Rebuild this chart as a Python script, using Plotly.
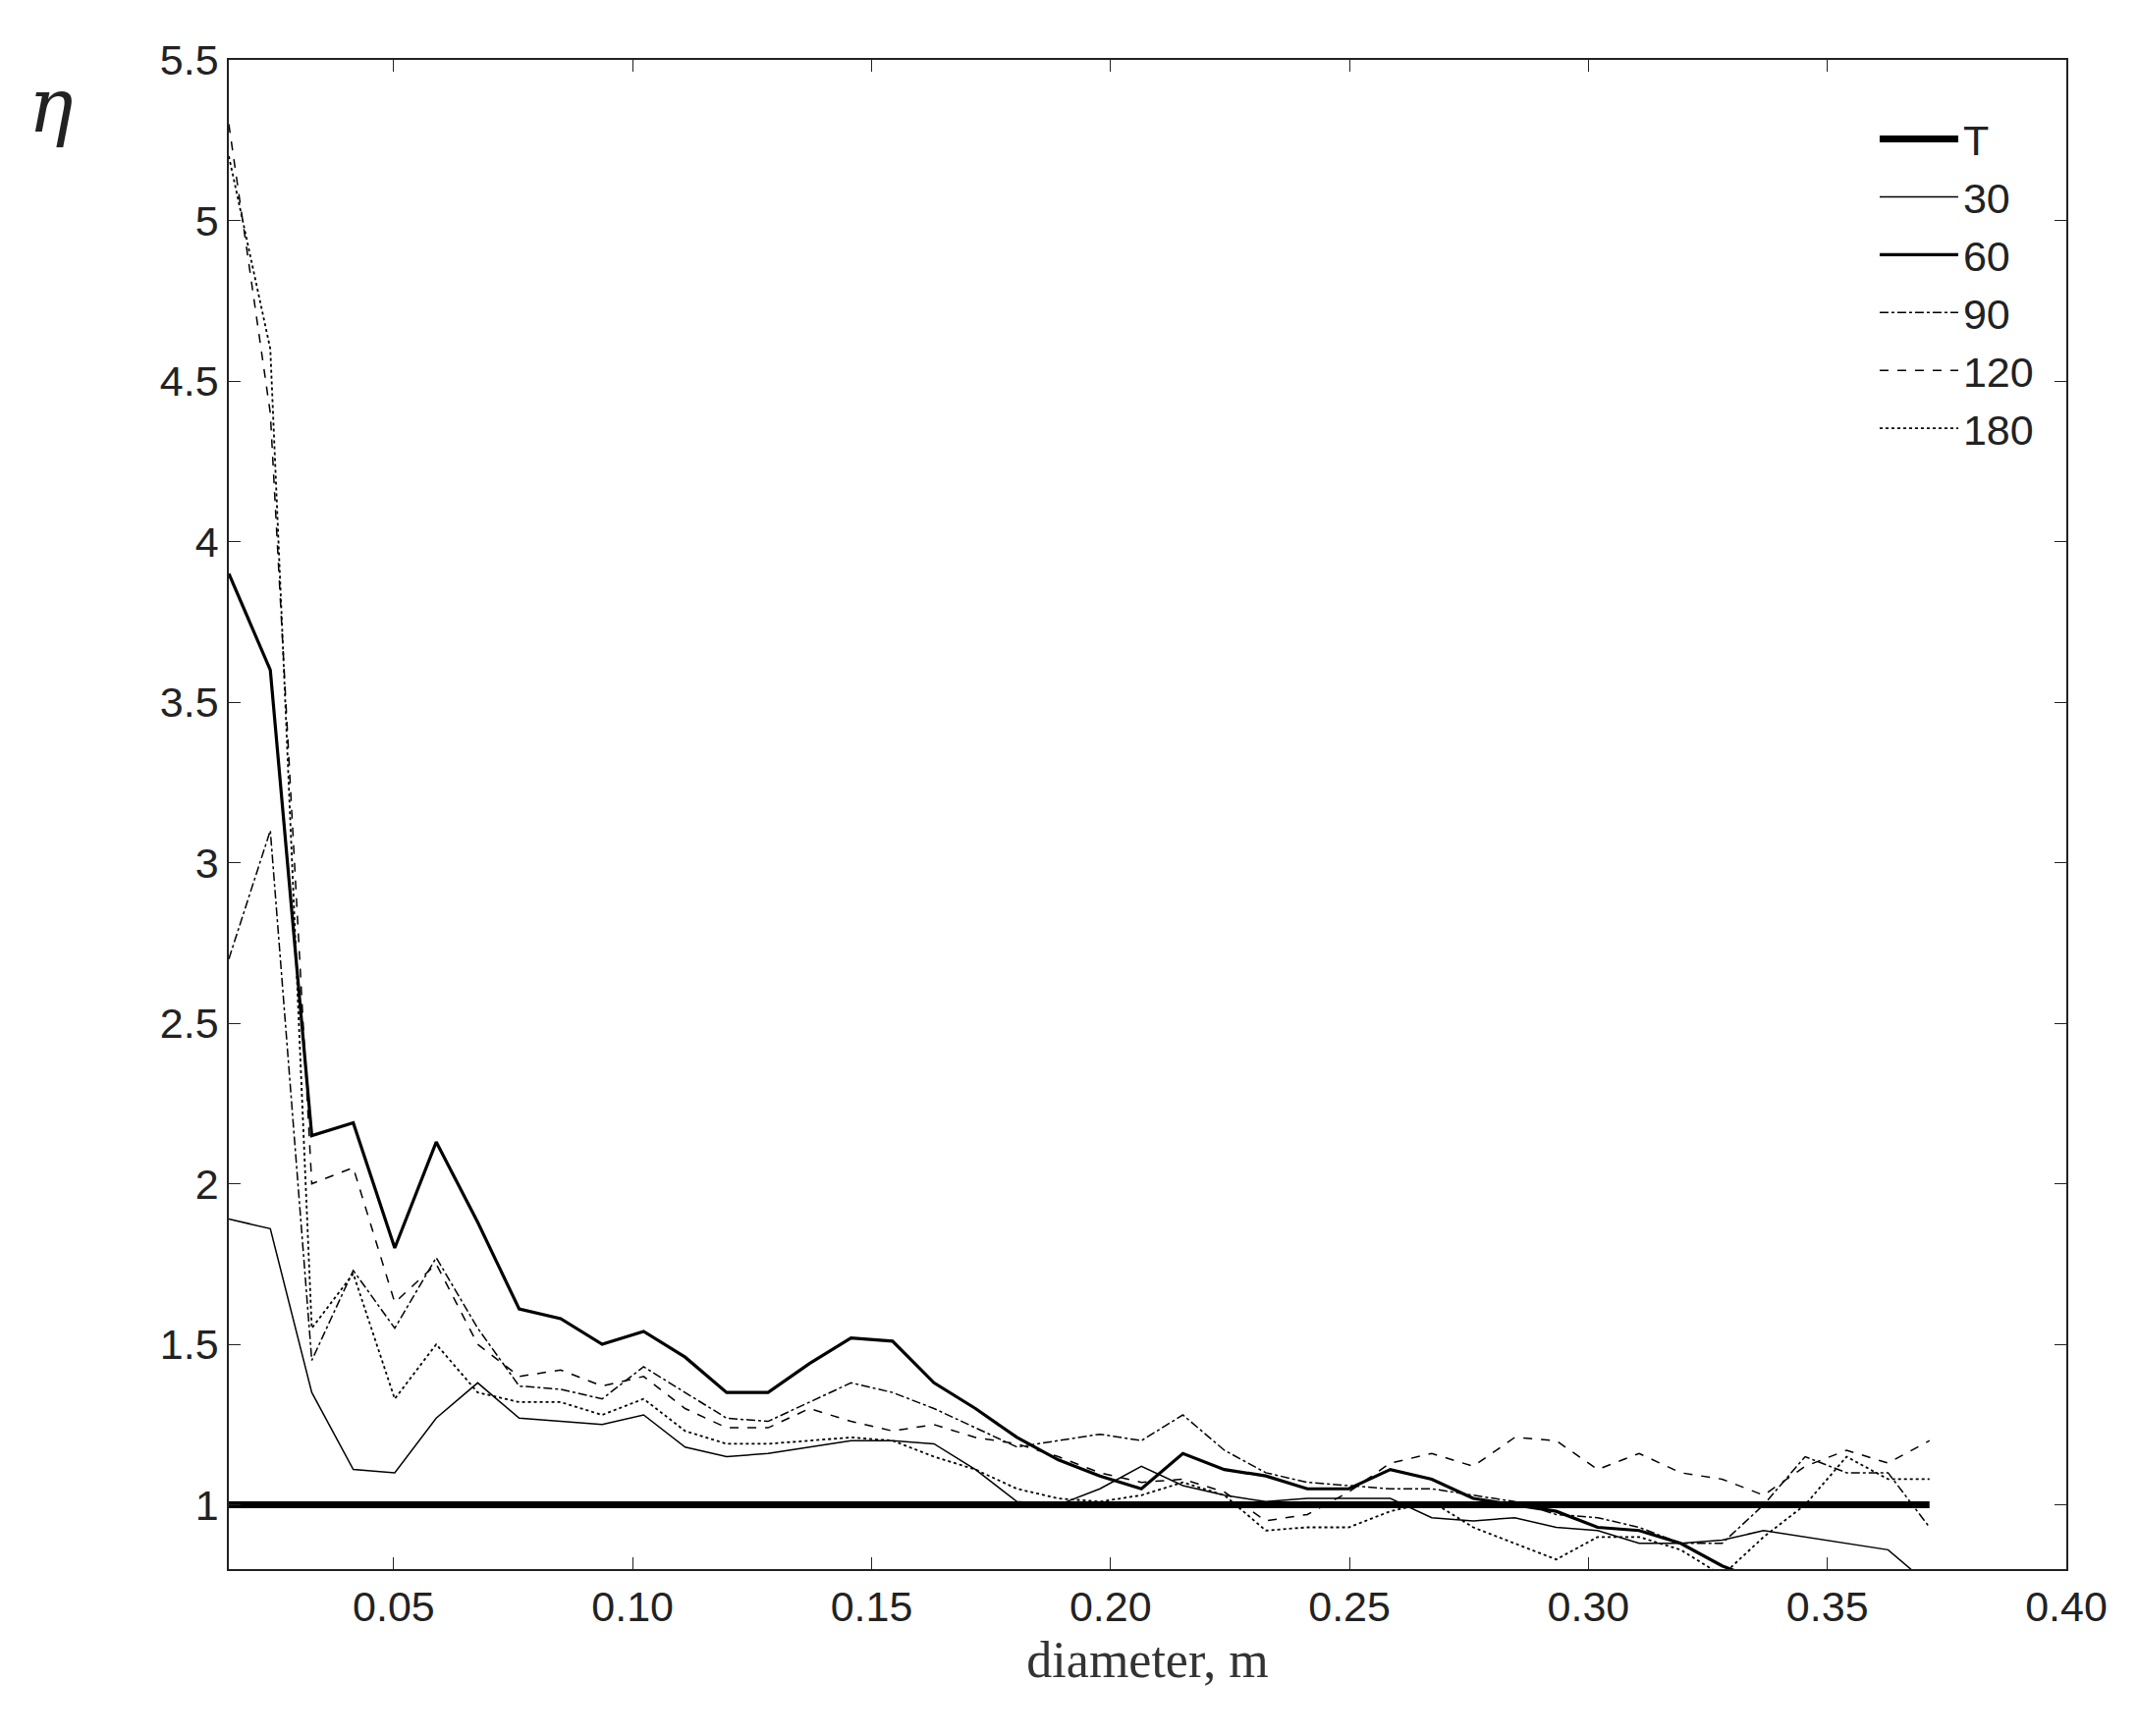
import numpy as np
import plotly.graph_objects as go

diameter = [round(0.0155 + i * 0.00868, 5) for i in range(42)]
T = [1.0] * 42
s30 = [1.89,1.86,1.35,1.11,1.10,1.27,1.38,1.27,1.26,1.25,1.28,1.18,1.15,1.16,1.18,1.20,1.20,1.19,1.11,1.01,
       1.00,1.05,1.12,1.06,1.03,1.01,1.02,1.02,1.02,0.96,0.95,0.96,0.93,0.92,0.88,0.88,0.89,0.92,0.90,0.88,0.86,0.75]
s60 = [3.9,3.6,2.15,2.19,1.80,2.13,1.88,1.61,1.58,1.50,1.54,1.46,1.35,1.35,1.44,1.52,1.51,1.38,1.30,1.21,
       1.14,1.09,1.05,1.16,1.11,1.09,1.05,1.05,1.11,1.08,1.02,1.00,0.98,0.93,0.92,0.88,0.81,0.76,0.72,0.70,0.68,0.66]
s90 = [2.7,3.1,1.45,1.73,1.55,1.77,1.55,1.37,1.36,1.33,1.43,1.35,1.27,1.26,1.32,1.38,1.35,1.30,1.24,1.18,
       1.20,1.22,1.20,1.28,1.17,1.10,1.07,1.06,1.05,1.05,1.03,1.01,0.97,0.96,0.93,0.88,0.88,1.00,1.15,1.10,1.10,0.93]
s120 = [5.3,4.4,2.0,2.05,1.63,1.75,1.50,1.40,1.42,1.37,1.40,1.30,1.24,1.24,1.30,1.26,1.23,1.25,1.21,1.19,
        1.15,1.10,1.07,1.08,1.04,0.95,0.97,1.04,1.13,1.16,1.12,1.21,1.20,1.11,1.16,1.10,1.08,1.03,1.12,1.17,1.13,1.20]
s180 = [5.2,4.6,1.55,1.72,1.33,1.50,1.35,1.32,1.32,1.28,1.33,1.23,1.19,1.19,1.20,1.21,1.20,1.15,1.11,1.05,
        1.02,1.01,1.03,1.07,1.03,0.92,0.93,0.93,0.98,1.01,0.93,0.88,0.83,0.90,0.90,0.86,0.78,0.90,1.00,1.15,1.08,1.08]
xticks = [0.05,0.10,0.15,0.20,0.25,0.30,0.35,0.40]
yticks = [1,1.5,2,2.5,3,3.5,4,4.5,5,5.5]

series = [("T", T, 7, "solid"), ("30", s30, 1.5, "solid"), ("60", s60, 3.2, "solid"),
          ("90", s90, 1.5, "dashdot"), ("120", s120, 1.5, "dash"), ("180", s180, 1.8, "dot")]

fig = go.Figure()
for name, ys, w, d in series:
    fig.add_trace(go.Scatter(x=diameter, y=ys, name=name, mode="lines",
                             line=dict(color="black", width=w, dash=d)))

ax = dict(showgrid=False, zeroline=False, mirror="ticks", ticks="inside", ticklen=12,
          showline=True, linecolor="#222", linewidth=1.5, tickcolor="#222",
          tickfont=dict(family="Liberation Sans", size=43, color="#222"))
fig.update_xaxes(range=[0.0155, 0.40], tickvals=xticks, tickformat=".2f",
                 title=dict(text="diameter, m", font=dict(family="Liberation Serif", size=52, color="#333"), standoff=12), **ax)
fig.update_yaxes(range=[0.8, 5.5], tickvals=yticks, ticktext=[f"{v:g}" for v in yticks], **ax)
fig.add_annotation(text="<i>η</i>", xref="paper", yref="paper", x=-0.11, y=1.0, showarrow=False,
                   font=dict(family="DejaVu Serif", size=76, color="#222"), xanchor="left", yanchor="top")
fig.update_layout(width=2177, height=1768, paper_bgcolor="white", plot_bgcolor="white",
                  margin=dict(l=225, r=81, t=53, b=178),
                  legend=dict(x=0.985, y=0.97, xanchor="right", yanchor="top", bgcolor="rgba(0,0,0,0)",
                              font=dict(family="Liberation Sans", size=43, color="#222"), itemwidth=80,
                              tracegroupgap=0))
fig.write_html("out.html")
